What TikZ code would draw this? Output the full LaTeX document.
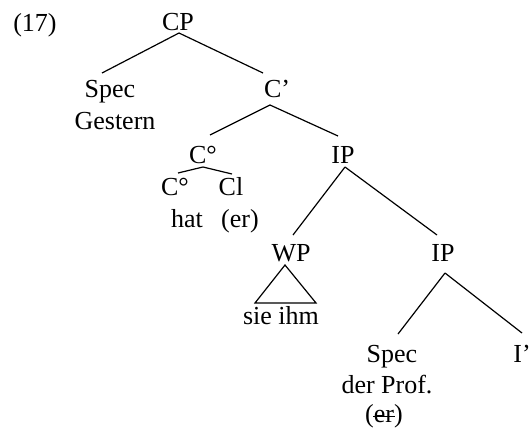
\documentclass[tikz,border=0pt]{standalone}
\usepackage{fontspec}
\setmainfont{Liberation Serif}
\begin{document}
\begin{tikzpicture}[x=1pt, y=-1pt, line width=1.2pt,
  every node/.style={inner sep=0pt, anchor=base},
  font=\fontsize{26}{30}\selectfont]
\useasboundingbox (0,0) rectangle (530,434);

\node (ex) at (35,31) {(17)};
\node (CP) at (178,30) {CP};
\node (SpecA) at (110,97) {Spec};
\node (GesternA) at (115,129) {Gestern};
\node (Cbar) at (277,97) {C’};
\node (Cdeg) at (203,163) {C°};
\node (IPa) at (343,163) {IP};
\node (Cdeg2) at (175,195) {C°};
\node (Cl) at (231,195) {Cl};
\node (hat) at (187,227) {hat};
\node (erA) at (240,227) {(er)};
\node (WP) at (291,261) {WP};
\node (IPb) at (443,261) {IP};
\node (sie) at (281,324) {sie ihm};
\node (SpecB) at (392,362) {Spec};
\node (Ibar) at (522,362) {I’};
\node (prof) at (387,393) {der Prof.};
\node (erB) at (384,422) {(er)};
% struck-out er
\draw[line width=1pt] ([shift={(-11,-6)}]erB.base) -- ([shift={(11,-6)}]erB.base);

\draw ([shift={(1,3)}]CP.base) -- ([shift={(-8,-24)}]SpecA.base);
\draw ([shift={(1,3)}]CP.base) -- ([shift={(-14,-24)}]Cbar.base);
\draw ([shift={(-7,8)}]Cbar.base) -- ([shift={(7,-28)}]Cdeg.base);
\draw ([shift={(-7,8)}]Cbar.base) -- ([shift={(-5,-27)}]IPa.base);
\draw ([shift={(0,4)}]Cdeg.base) -- ([shift={(3,-22)}]Cdeg2.base);
\draw ([shift={(0,4)}]Cdeg.base) -- ([shift={(1,-21)}]Cl.base);
\draw ([shift={(2,4)}]IPa.base) -- ([shift={(2,-26)}]WP.base);
\draw ([shift={(2,4)}]IPa.base) -- ([shift={(-6,-26)}]IPb.base);

% triangle over sie ihm
\draw ([shift={(-6,4)}]WP.base) -- ([shift={(-26,-21)}]sie.base)
  -- ([shift={(35,-21)}]sie.base) -- cycle;

\draw ([shift={(2,12)}]IPb.base) -- ([shift={(6,-28)}]SpecB.base);
\draw ([shift={(2,12)}]IPb.base) -- ([shift={(0,-29)}]Ibar.base);
\end{tikzpicture}
\end{document}
